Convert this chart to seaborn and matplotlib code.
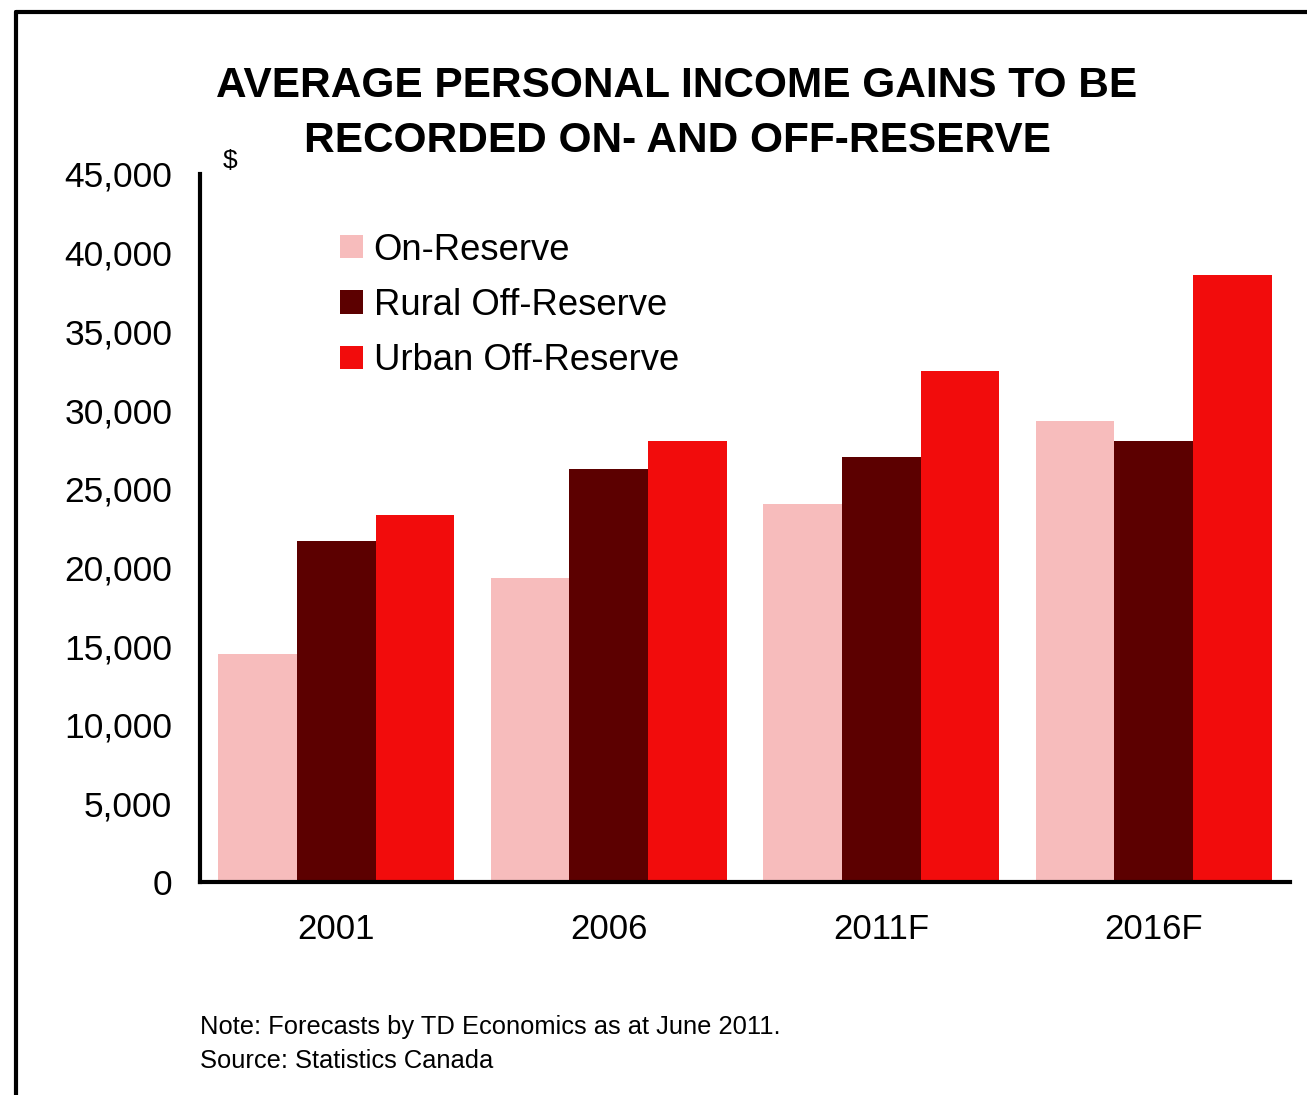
import pandas as pd
import seaborn as sns
import matplotlib.pyplot as plt
from matplotlib import lines
from matplotlib.ticker import FuncFormatter

# ====================
# Data
# ====================

years = ['2001', '2006', '2011F', '2016F']
on_reserve = [14500, 19300, 24000, 29300]
rural_off = [21700, 26250, 27000, 28050]
urban_off = [23350, 28050, 32500, 38600]
series = ['On-Reserve', 'Rural Off-Reserve', 'Urban Off-Reserve']

df = pd.DataFrame({
    'year': years * 3,
    'group': [series[0]] * 4 + [series[1]] * 4 + [series[2]] * 4,
    'income': on_reserve + rural_off + urban_off,
})

# ====================
# Plotting
# ====================

sns.set_style('white')
plt.rcParams['font.family'] = ['Liberation Sans', 'DejaVu Sans']
plt.rcParams['text.color'] = 'black'
plt.rcParams['xtick.color'] = 'black'
plt.rcParams['ytick.color'] = 'black'

fig = plt.figure(figsize=(13.07, 10.95), dpi=100)
ax = fig.add_axes([0.153, 0.1945, 0.834, 0.6466])

palette = ['#F7BCBC', '#5C0000', '#F20C0C']
sns.barplot(data=df, x='year', y='income', hue='group', palette=palette,
            width=0.865, saturation=1, ax=ax, linewidth=0)

ax.set_ylim(0, 45000)
ax.set_xlim(-0.5, 3.5)
ax.set_yticks(range(0, 45001, 5000))
ax.yaxis.set_major_formatter(FuncFormatter(lambda v, p: f'{int(v):,}'))
ax.tick_params(axis='y', length=0, pad=20, labelsize=25.5)
ax.tick_params(axis='x', length=0, pad=22, labelsize=25)
ax.set_xlabel('')
ax.set_ylabel('')

sns.despine(ax=ax)
for side in ['left', 'bottom']:
    ax.spines[side].set_linewidth(3)
    ax.spines[side].set_color('black')

leg = ax.legend(loc='upper left', bbox_to_anchor=(0.115, 0.938), frameon=False,
                fontsize=26.3, handlelength=0.62, handleheight=0.62,
                handletextpad=0.3, labelspacing=0.56, borderaxespad=0)

# title, one line per text
fig.text(0.518, 1 - 86 / 1095, 'AVERAGE PERSONAL INCOME GAINS TO BE',
         ha='center', va='center', fontsize=30.5, fontweight='bold')
fig.text(0.518, 1 - 141 / 1095, 'RECORDED ON- AND OFF-RESERVE',
         ha='center', va='center', fontsize=30.5, fontweight='bold')
fig.text(0.176, 0.853, '$', ha='center', va='center', fontsize=19)

fig.text(0.153, 0.062, 'Note: Forecasts by TD Economics as at June 2011.',
         ha='left', va='center', fontsize=18.4)
fig.text(0.153, 0.031, 'Source: Statistics Canada', ha='left', va='center', fontsize=18.4)

# frame around the figure (cropped at right and bottom)
fig.add_artist(lines.Line2D([0.012, 0.012], [0.0, 0.989], color='black', lw=3,
                            transform=fig.transFigure))
fig.add_artist(lines.Line2D([0.012, 1.0], [0.989, 0.989], color='black', lw=3,
                            transform=fig.transFigure))

fig.savefig('out.png', dpi=100)
